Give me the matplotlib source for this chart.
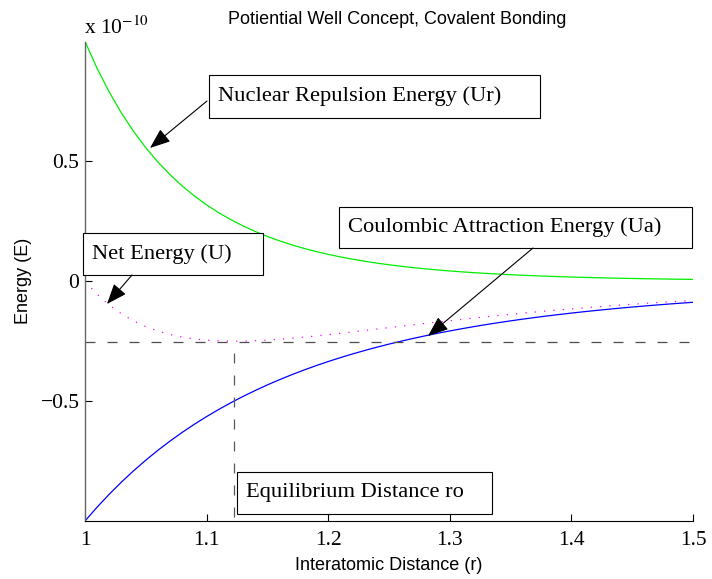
import matplotlib
matplotlib.use("Agg")
import matplotlib.pyplot as plt

# Interatomic distance (r) and energies (units of 1e-10)
r = [1.00, 1.01, 1.02, 1.03, 1.04, 1.05, 1.06, 1.07, 1.08, 1.09,
     1.10, 1.11, 1.12, 1.13, 1.14, 1.15, 1.16, 1.17, 1.18, 1.19,
     1.20, 1.21, 1.22, 1.23, 1.24, 1.25, 1.26, 1.27, 1.28, 1.29,
     1.30, 1.31, 1.32, 1.33, 1.34, 1.35, 1.36, 1.37, 1.38, 1.39,
     1.40, 1.41, 1.42, 1.43, 1.44, 1.45, 1.46, 1.47, 1.48, 1.49, 1.50]

repulsion = [1.00000, 0.88746, 0.78849, 0.70137, 0.62459, 0.55684, 0.49697, 0.44401, 0.39711, 0.35554,
             0.31863, 0.28584, 0.25667, 0.23071, 0.20756, 0.18691, 0.16846, 0.15197, 0.13722, 0.12400,
             0.11216, 0.10153, 0.09198, 0.08339, 0.07567, 0.06872, 0.06245, 0.05680, 0.05170, 0.04709,
             0.04292, 0.03915, 0.03574, 0.03264, 0.02984, 0.02729, 0.02498, 0.02287, 0.02096, 0.01922,
             0.01764, 0.01620, 0.01488, 0.01368, 0.01258, 0.01158, 0.01066, 0.00982, 0.00905, 0.00835, 0.00771]

attraction = [-1.00000, -0.94205, -0.88797, -0.83748, -0.79031, -0.74622, -0.70496, -0.66634, -0.63017, -0.59627,
              -0.56447, -0.53464, -0.50663, -0.48032, -0.45559, -0.43233, -0.41044, -0.38984, -0.37043, -0.35214,
              -0.33490, -0.31863, -0.30328, -0.28878, -0.27509, -0.26214, -0.24991, -0.23833, -0.22737, -0.21700,
              -0.20718, -0.19787, -0.18904, -0.18067, -0.17273, -0.16520, -0.15804, -0.15124, -0.14478, -0.13865,
              -0.13281, -0.12726, -0.12198, -0.11695, -0.11216, -0.10760, -0.10325, -0.09910, -0.09515, -0.09139, -0.08779]

net = [0.00000, -0.05459, -0.09948, -0.13611, -0.16572, -0.18938, -0.20799, -0.22233, -0.23306, -0.24073,
       -0.24584, -0.24880, -0.24996, -0.24961, -0.24803, -0.24542, -0.24198, -0.23787, -0.23321, -0.22814,
       -0.22274, -0.21710, -0.21130, -0.20539, -0.19942, -0.19342, -0.18746, -0.18153, -0.17567, -0.16991,
       -0.16426, -0.15872, -0.15330, -0.14803, -0.14289, -0.13791, -0.13306, -0.12837, -0.12382, -0.11943,
       -0.11517, -0.11106, -0.10710, -0.10327, -0.09958, -0.09602, -0.09259, -0.08928, -0.08610, -0.08304, -0.08008]

eq_r = 1.1225
eq_u = -0.255
h_span = [1.0, 1.505]
v_span = [-0.30, -1.0]

x_ticks = [1.0, 1.1, 1.2, 1.3, 1.4, 1.5]
x_ticklabels = ["1", "1.1", "1.2", "1.3", "1.4", "1.5"]
y_ticks = [-0.5, 0.0, 0.5]
y_ticklabels = ["\u22120.5", "0", "0.5"]

W, H = 712, 579
fig = plt.figure(figsize=(W / 100, H / 100), dpi=100)
ax = fig.add_axes([85 / W, 1 - 521 / H, 608 / W, (521 - 41.5) / H])

serif = "Liberation Serif"
sans = "Liberation Sans"

ax.plot(r, repulsion, color="#00ee00", lw=0.9)
ax.plot(r, attraction, color="#0000ff", lw=0.9)
ax.plot(r, net, color="#ff00ff", lw=0.9, linestyle=(0, (1, 6.5)))
ax.plot(h_span, [eq_u, eq_u], color="0.3", lw=0.9, linestyle=(0, (8, 9.6)), clip_on=False)
ax.plot([eq_r, eq_r], v_span, color="0.35", lw=0.9, linestyle=(0, (8, 9.6)), clip_on=False)

ax.set_xlim(1.0, 1.5)
ax.set_ylim(-1.0, 1.0)
ax.set_xticks(x_ticks)
ax.set_xticklabels(x_ticklabels)
ax.set_yticks(y_ticks)
ax.set_yticklabels(y_ticklabels)
for lab in ax.get_xticklabels() + ax.get_yticklabels():
    lab.set_fontfamily(serif)
    lab.set_fontsize(15.5)
ax.tick_params(direction="in", length=5, width=0.8)
ax.tick_params(axis="x", pad=7)
ax.tick_params(axis="y", pad=4)
ax.spines["top"].set_visible(False)
ax.spines["right"].set_visible(False)
ax.spines["left"].set_linewidth(1.0)
ax.spines["left"].set_color("0.4")
ax.spines["bottom"].set_linewidth(0.8)

ax.set_xlabel("Interatomic Distance (r)", fontfamily=sans, fontsize=13, labelpad=5)
ax.set_ylabel("Energy (E)", fontfamily=sans, fontsize=13, labelpad=6)

fig.text(397 / W, 1 - 20 / H, "Potiential Well Concept, Covalent Bonding",
         fontfamily=sans, fontsize=13, ha="center", va="center")
fig.text(84 / W, 1 - 28 / H, "x 10$^{-10}$", fontfamily=serif, fontsize=15.5,
         ha="left", va="center", math_fontfamily="stix")


def fpt(x, y):
    return (x / W, 1 - y / H)


def box(x0, y0, x1, y1, label):
    rect = plt.Rectangle(fpt(x0, y1), (x1 - x0) / W, (y1 - y0) / H,
                         transform=fig.transFigure, facecolor="white",
                         edgecolor="black", lw=0.8, zorder=5)
    fig.patches.append(rect)
    fig.text((x0 + 9) / W, 1 - (y0 + y1) / 2 / H, label, fontfamily=serif,
             fontsize=16.2, ha="left", va="center", zorder=6)


def arrow(tail, tip):
    fig.add_artist(matplotlib.patches.FancyArrowPatch(
        fpt(*tail), fpt(*tip), transform=fig.transFigure,
        arrowstyle="-|>,head_length=0.9,head_width=0.35",
        mutation_scale=14, color="black", lw=0.8, shrinkA=0, shrinkB=0, zorder=7))


box(209, 75, 540, 118, "Nuclear Repulsion Energy (Ur)")
box(83, 233, 263, 275, "Net Energy (U)")
box(339, 207, 692, 248, "Coulombic Attraction Energy (Ua)")
box(237, 472, 492, 514, "Equilibrium Distance ro")

arrow((207, 101), (150, 148))
arrow((132, 275), (107, 304))
arrow((533, 248), (428, 336))

fig.savefig("out.png", dpi=100)
